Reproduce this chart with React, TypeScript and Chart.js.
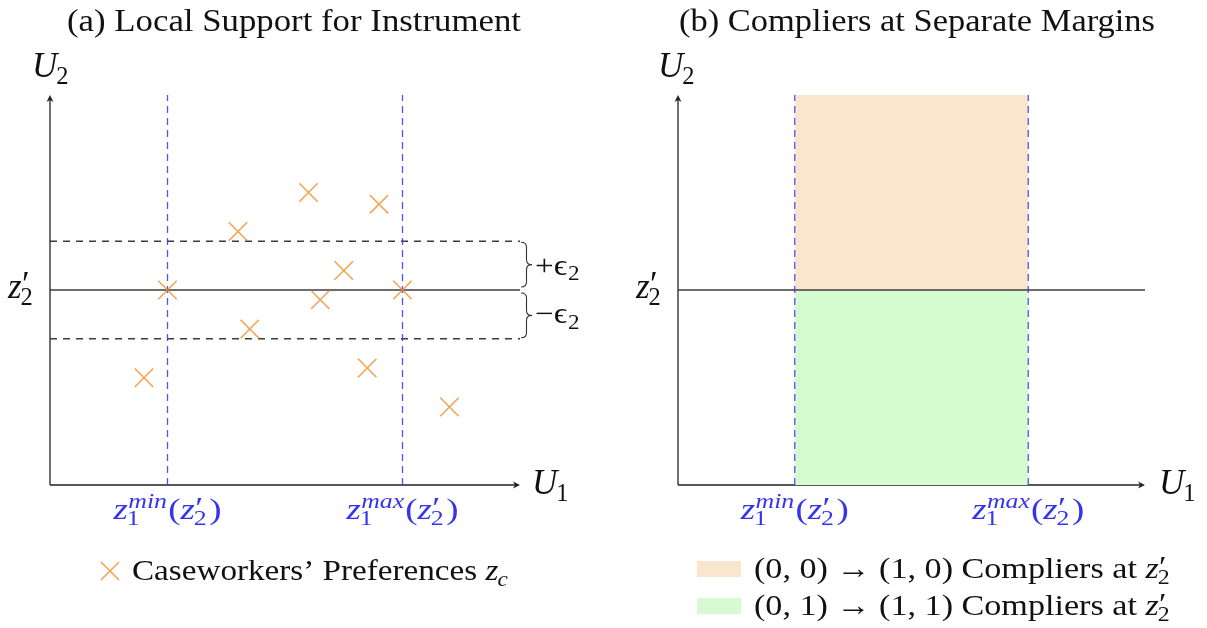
import React, { useEffect, useRef } from "react";
import { Chart, registerables } from "chart.js";

Chart.register(...registerables);

// ---------- data ----------
const xRange = [0, 12];
const yRange = [0, 10];
const zMin = 3;
const zMax = 9;
const z2Prime = 5;
const epsilon = 1.25;
const prefX = [6.6, 8.4, 4.8, 7.5, 3.0, 6.9, 9.0, 5.1, 2.4, 8.1, 10.2];
const prefY = [7.5, 7.2, 6.5, 5.5, 5.0, 4.75, 5.0, 4.0, 2.75, 3.0, 2.0];
const titleA = "(a) Local Support for Instrument";
const titleB = "(b) Compliers at Separate Margins";
const legendA = "Caseworkers’ Preferences ";
const complierLabels = ["(0, 0) → (1, 0) Compliers at ", "(0, 1) → (1, 1) Compliers at "];

// ---------- styles ----------
const SERIF = '"Liberation Serif"';
const ORANGE = "rgba(242,140,40,0.8)";
const BLUE = "rgba(50,50,255,0.85)";
const BLUE_TEXT = "#3434f0";
const AXIS = "#222";
const LINE = "#3c3c3c";
const FILL_ORANGE = "#fae5cf";
const FILL_GREEN = "#d6fbd0";

type Seg = { t: string; it?: boolean; sub?: string; subIt?: boolean; sup?: string; supIt?: boolean; prime?: boolean };

const fnt = (size: number, it?: boolean) => `${it ? "italic " : ""}${Math.round(size * 10) / 10}px ${SERIF}`;

function scriptWidth(ctx: CanvasRenderingContext2D, s: Seg, size: number) {
  const ss = size * 0.7;
  let sw = 0;
  if (s.sub) {
    ctx.font = fnt(ss, s.subIt);
    sw = Math.max(sw, ctx.measureText(s.sub).width);
  }
  if (s.sup) {
    ctx.font = fnt(ss, s.supIt);
    sw = Math.max(sw, ctx.measureText(s.sup).width);
  }
  if (s.prime) {
    ctx.font = fnt(size, false);
    sw = Math.max(sw, ctx.measureText("′").width);
  }
  return sw;
}

function measureRich(ctx: CanvasRenderingContext2D, segs: Seg[], size: number) {
  let w = 0;
  for (const s of segs) {
    ctx.font = fnt(size, s.it);
    w += ctx.measureText(s.t).width;
    const sw = scriptWidth(ctx, s, size);
    if (sw) w += sw + size * 0.04;
  }
  return w;
}

function drawRich(
  ctx: CanvasRenderingContext2D,
  segs: Seg[],
  x: number,
  y: number,
  size: number,
  color: string,
  align: "left" | "center" | "right" = "left",
  target?: number,
  maxSize?: number
) {
  let sx = 1;
  if (target) {
    size = (size * target) / measureRich(ctx, segs, size);
    if (maxSize && size > maxSize) {
      size = maxSize;
      sx = target / measureRich(ctx, segs, size);
    }
  }
  const w = measureRich(ctx, segs, size) * sx;
  const startX = align === "center" ? x - w / 2 : align === "right" ? x - w : x;
  const ss = size * 0.7;
  ctx.save();
  ctx.translate(startX, y);
  ctx.scale(sx, 1);
  ctx.fillStyle = color;
  ctx.textAlign = "left";
  ctx.textBaseline = "alphabetic";
  let cx = 0;
  for (const s of segs) {
    ctx.font = fnt(size, s.it);
    ctx.fillText(s.t, cx, 0);
    cx += ctx.measureText(s.t).width;
    const sw = scriptWidth(ctx, s, size);
    const off = s.it ? size * 0.01 : size * 0.03;
    if (s.sub) {
      ctx.font = fnt(ss, s.subIt);
      ctx.fillText(s.sub, cx + off - (s.it ? size * 0.04 : 0), size * 0.2);
    }
    if (s.sup) {
      ctx.font = fnt(ss, s.supIt);
      ctx.fillText(s.sup, cx + off, -size * 0.36);
    }
    if (s.prime) {
      ctx.font = fnt(size, false);
      ctx.fillText("′", cx + off, -size * 0.06);
    }
    if (sw) cx += sw + size * 0.04;
  }
  ctx.restore();
}

function drawAxes(chart: any) {
  const ctx: CanvasRenderingContext2D = chart.ctx;
  const xs = chart.scales.x;
  const ys = chart.scales.y;
  const x0 = xs.getPixelForValue(xRange[0]);
  const y0 = ys.getPixelForValue(yRange[0]);
  const x1 = xs.getPixelForValue(xRange[1]);
  const y1 = ys.getPixelForValue(yRange[1]);
  ctx.save();
  ctx.strokeStyle = AXIS;
  ctx.fillStyle = AXIS;
  ctx.lineWidth = 1.3;
  ctx.setLineDash([]);
  ctx.beginPath();
  ctx.moveTo(x0, y0);
  ctx.lineTo(x1 - 2, y0);
  ctx.moveTo(x0, y0);
  ctx.lineTo(x0, y1 + 2);
  ctx.stroke();
  ctx.beginPath();
  ctx.moveTo(x1, y0);
  ctx.lineTo(x1 - 7, y0 - 3.5);
  ctx.lineTo(x1 - 5, y0);
  ctx.lineTo(x1 - 7, y0 + 3.5);
  ctx.closePath();
  ctx.fill();
  ctx.beginPath();
  ctx.moveTo(x0, y1);
  ctx.lineTo(x0 - 3.5, y1 + 7);
  ctx.lineTo(x0, y1 + 5);
  ctx.lineTo(x0 + 3.5, y1 + 7);
  ctx.closePath();
  ctx.fill();
  ctx.restore();
}

function drawBrace(ctx: CanvasRenderingContext2D, x: number, yt: number, yb: number) {
  const w = 11;
  const r = 5;
  const ym = (yt + yb) / 2;
  ctx.save();
  ctx.strokeStyle = "#333";
  ctx.lineWidth = 1.1;
  ctx.setLineDash([]);
  ctx.beginPath();
  ctx.moveTo(x, yt);
  ctx.quadraticCurveTo(x + w / 2, yt, x + w / 2, yt + r);
  ctx.lineTo(x + w / 2, ym - r);
  ctx.quadraticCurveTo(x + w / 2, ym, x + w, ym);
  ctx.quadraticCurveTo(x + w / 2, ym, x + w / 2, ym + r);
  ctx.lineTo(x + w / 2, yb - r);
  ctx.quadraticCurveTo(x + w / 2, yb, x, yb);
  ctx.stroke();
  ctx.restore();
}

const zLabel = (sup: string): Seg[] => [
  { t: "z", it: true, sub: "1", sup, supIt: true },
  { t: "(" },
  { t: "z", it: true, sub: "2", prime: true },
  { t: ")" },
];
const U = (n: string): Seg[] => [{ t: "U", it: true, sub: n }];
const Z2: Seg[] = [{ t: "z", it: true, sub: "2", prime: true }];

function commonLabels(chart: any, uLeftOff: number, uRightOff: number) {
  const ctx: CanvasRenderingContext2D = chart.ctx;
  const xs = chart.scales.x;
  const ys = chart.scales.y;
  const x0 = xs.getPixelForValue(xRange[0]);
  const x1 = xs.getPixelForValue(xRange[1]);
  const y0 = ys.getPixelForValue(yRange[0]);
  const y1 = ys.getPixelForValue(yRange[1]);
  const yz = ys.getPixelForValue(z2Prime);
  drawRich(ctx, U("2"), x0 + uLeftOff, y1 - 18, 35, "#111");
  drawRich(ctx, U("1"), x1 + uRightOff, y0 + 9, 35, "#111");
  drawRich(ctx, Z2, x0 - 42, yz + 8, 35, "#111");
  drawRich(ctx, zLabel("min"), xs.getPixelForValue(zMin), y0 + 34, 29, BLUE_TEXT, "center", 108, 30);
  drawRich(ctx, zLabel("max"), xs.getPixelForValue(zMax), y0 + 34, 29, BLUE_TEXT, "center", 112, 30);
}

const pluginA = {
  id: "panelA",
  beforeDatasetsDraw(chart: any) {
    drawAxes(chart);
  },
  afterDraw(chart: any) {
    const ctx: CanvasRenderingContext2D = chart.ctx;
    const xs = chart.scales.x;
    const ys = chart.scales.y;
    drawRich(ctx, [{ t: titleA }], 294, 31, 30, "#111", "center", 454, 31);
    commonLabels(chart, -18, 12);
    const xb = xs.getPixelForValue(xRange[1]) + 1;
    const yTop = ys.getPixelForValue(z2Prime + epsilon);
    const yMid = ys.getPixelForValue(z2Prime);
    const yBot = ys.getPixelForValue(z2Prime - epsilon);
    drawBrace(ctx, xb, yTop + 1, yMid - 3);
    drawBrace(ctx, xb, yMid + 3, yBot - 1);
    drawRich(ctx, [{ t: "+" }, { t: "ϵ", sub: "2" }], xb + 14, (yTop + yMid) / 2 + 9, 28, "#111", "left", 45, 29);
    drawRich(ctx, [{ t: "−" }, { t: "ϵ", sub: "2" }], xb + 14, (yMid + yBot) / 2 + 9, 28, "#111", "left", 45, 29);
    // legend
    ctx.save();
    ctx.strokeStyle = ORANGE;
    ctx.lineWidth = 1.6;
    ctx.beginPath();
    const lx = 110, ly = 571, r = 9;
    ctx.moveTo(lx - r, ly - r);
    ctx.lineTo(lx + r, ly + r);
    ctx.moveTo(lx + r, ly - r);
    ctx.lineTo(lx - r, ly + r);
    ctx.stroke();
    ctx.restore();
    drawRich(ctx, [{ t: legendA }, { t: "z", it: true, sub: "c", subIt: true }], 132, 580, 29, "#111", "left", 378, 30);
  },
};

const pluginB = {
  id: "panelB",
  beforeDatasetsDraw(chart: any) {
    drawAxes(chart);
  },
  afterDraw(chart: any) {
    const ctx: CanvasRenderingContext2D = chart.ctx;
    drawRich(ctx, [{ t: titleB }], 917 - 603, 31, 30, "#111", "center", 476, 31);
    commonLabels(chart, -20, 14);
    const rows = [FILL_ORANGE, FILL_GREEN];
    rows.forEach((c, i) => {
      const yb = i === 0 ? 578 : 615;
      ctx.fillStyle = c;
      ctx.fillRect(697 - 603, yb - 17, 44, 16);
      drawRich(ctx, [{ t: complierLabels[i] }, ...Z2], 754 - 603, yb, 29, "#111", "left", 418, 30);
    });
  },
};

const lineDs = (pts: { x: number; y: number }[], color: string, dash: number[], width = 1.3) => ({
  data: pts,
  borderColor: color,
  borderWidth: width,
  borderDash: dash,
  pointRadius: 0,
  fill: false,
  showLine: true,
  clip: false as any,
});

const baseOptions = (padding: any) => ({
  responsive: false,
  animation: false as const,
  events: [] as any[],
  layout: { padding },
  plugins: { legend: { display: false }, title: { display: false }, tooltip: { enabled: false } },
  scales: {
    x: { type: "linear" as const, min: xRange[0], max: xRange[1], display: false },
    y: { type: "linear" as const, min: yRange[0], max: yRange[1], display: false },
  },
});

function configA(): any {
  return {
    type: "line",
    data: {
      datasets: [
        {
          data: prefX.map((x, i) => ({ x, y: prefY[i] })),
          showLine: false,
          pointStyle: "crossRot",
          pointRadius: 13,
          pointBorderWidth: 1.6,
          pointBorderColor: ORANGE,
          borderColor: ORANGE,
          clip: false,
        },
        lineDs([{ x: zMin, y: yRange[0] }, { x: zMin, y: yRange[1] }], BLUE, [7, 5]),
        lineDs([{ x: zMax, y: yRange[0] }, { x: zMax, y: yRange[1] }], BLUE, [7, 5]),
        lineDs([{ x: xRange[0], y: z2Prime }, { x: xRange[1], y: z2Prime }], LINE, []),
        lineDs([{ x: xRange[0], y: z2Prime + epsilon }, { x: xRange[1], y: z2Prime + epsilon }], LINE, [7, 6]),
        lineDs([{ x: xRange[0], y: z2Prime - epsilon }, { x: xRange[1], y: z2Prime - epsilon }], LINE, [7, 6]),
      ],
    },
    options: baseOptions({ left: 50, right: 83, top: 95, bottom: 143 }),
    plugins: [pluginA],
  };
}

function configB(): any {
  return {
    type: "line",
    data: {
      datasets: [
        lineDs([{ x: zMin, y: yRange[0] }, { x: zMin, y: yRange[1] }], BLUE, [7, 5]),
        lineDs([{ x: zMax, y: yRange[0] }, { x: zMax, y: yRange[1] }], BLUE, [7, 5]),
        lineDs([{ x: xRange[0], y: z2Prime }, { x: xRange[1], y: z2Prime }], LINE, []),
        {
          data: [{ x: zMin, y: yRange[1] }, { x: zMax, y: yRange[1] }],
          borderWidth: 0,
          borderColor: "rgba(0,0,0,0)",
          backgroundColor: FILL_ORANGE,
          pointRadius: 0,
          fill: { value: z2Prime },
        },
        {
          data: [{ x: zMin, y: z2Prime }, { x: zMax, y: z2Prime }],
          borderWidth: 0,
          borderColor: "rgba(0,0,0,0)",
          backgroundColor: FILL_GREEN,
          pointRadius: 0,
          fill: { value: yRange[0] },
        },
      ],
    },
    options: baseOptions({ left: 75, right: 62, top: 95, bottom: 143 }),
    plugins: [pluginB],
  };
}

function Panel({ which, left, width }: { which: "a" | "b"; left: number; width: number }) {
  const ref = useRef<HTMLCanvasElement>(null);
  useEffect(() => {
    const chart = new Chart(ref.current as HTMLCanvasElement, which === "a" ? configA() : configB());
    return () => chart.destroy();
  }, [which]);
  return (
    <canvas
      ref={ref}
      width={width}
      height={628}
      style={{ position: "absolute", left, top: 0, width, height: 628, display: "block" }}
    />
  );
}

export default function App() {
  return (
    <div style={{ position: "absolute", left: 0, top: 0, width: 1207, height: 628, background: "#fff" }}>
      <Panel which="a" left={0} width={603} />
      <Panel which="b" left={603} width={604} />
    </div>
  );
}
